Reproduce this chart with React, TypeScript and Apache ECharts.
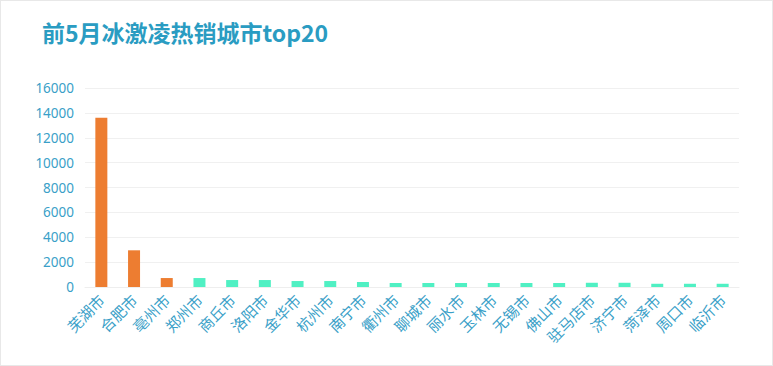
import React, { useEffect, useRef } from "react";
import * as echarts from "echarts";

const cities = ["芜湖市", "合肥市", "亳州市", "郑州市", "商丘市", "洛阳市", "金华市", "杭州市", "南宁市", "衢州市", "聊城市", "丽水市", "玉林市", "无锡市", "佛山市", "驻马店市", "济宁市", "菏泽市", "周口市", "临沂市"];
const sales = [13600, 2950, 720, 720, 560, 560, 480, 480, 400, 320, 320, 320, 320, 320, 320, 340, 340, 260, 260, 260];
const highlightCount = 3;
const yTicks = [0, 2000, 4000, 6000, 8000, 10000, 12000, 14000, 16000];

export default function App() {
  const ref = useRef<HTMLDivElement>(null);
  useEffect(() => {
    document.body.style.margin = "0";
    const chart = echarts.init(ref.current!, undefined, { renderer: "svg" });
    chart.setOption({
      animation: false,
      backgroundColor: "#ffffff",
      title: {
        text: "前5月冰激凌热销城市top20",
        left: 36,
        top: 14,
        textStyle: {
          color: "#2a9cc2",
          fontSize: 23,
          fontWeight: "bold",
          fontFamily: "Noto Sans CJK SC",
        },
      },
      grid: { left: 84, right: 33, top: 87, bottom: 78 },
      xAxis: {
        type: "category",
        data: cities,
        axisLine: { show: true, lineStyle: { color: "#eeeeee" } },
        axisTick: { show: false },
        axisLabel: {
          interval: 0,
          rotate: 45,
          color: "#3a9fc8",
          fontSize: 15,
          margin: 10,
          fontFamily: "Noto Sans CJK SC",
        },
      },
      yAxis: {
        type: "value",
        min: 0,
        max: yTicks[yTicks.length - 1],
        interval: 2000,
        axisLine: { show: false },
        axisTick: { show: false },
        splitLine: { lineStyle: { color: "#f0f0f0" } },
        axisLabel: {
          color: "#3a9fc8",
          fontSize: 13.5,
          margin: 11,
          fontFamily: "Noto Sans",
          formatter: (v: number) => String(v),
        },
      },
      series: [
        {
          type: "bar",
          barWidth: 12,
          data: sales.map((v, i) => ({
            value: v,
            itemStyle: { color: i < highlightCount ? "#ed7d31" : "#50f0c3" },
          })),
        },
      ],
    });
    return () => chart.dispose();
  }, []);
  return (
    <div
      style={{
        position: "absolute",
        left: 0,
        top: 0,
        width: 773,
        height: 366,
        boxSizing: "border-box",
        border: "1px solid #e8e8e8",
        background: "#fff",
      }}
    >
      <div ref={ref} style={{ width: 771, height: 364 }} />
    </div>
  );
}
